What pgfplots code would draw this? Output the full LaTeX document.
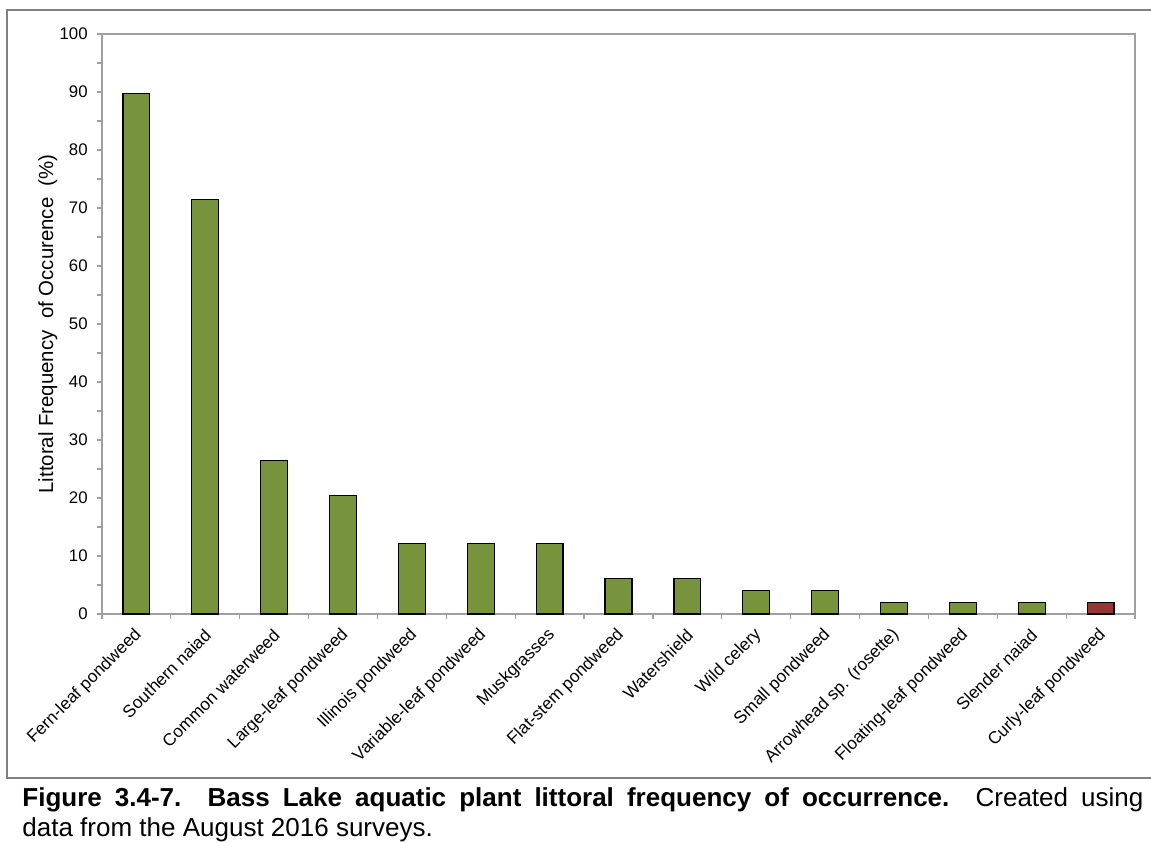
\documentclass[border=0pt]{standalone}
\usepackage{fontspec}
\setmainfont{Liberation Sans}
\usepackage{pgfplots}
\pgfplotsset{compat=1.18}
\definecolor{barg}{HTML}{77933C}
\definecolor{barr}{HTML}{953735}
\definecolor{axgray}{HTML}{A0A0A0}
\definecolor{framegray}{HTML}{808080}

\begin{document}
\begin{tikzpicture}
\useasboundingbox (0,0) rectangle (575.5pt,-421pt);
% outer frame of the figure box
\draw[framegray, line width=1pt] (576pt,-5pt) -- (3.5pt,-5pt) -- (3.5pt,-389pt) -- (576pt,-389pt);
\begin{axis}[
    at={(51pt,-307pt)}, anchor=south west,
    scale only axis, width=516.5pt, height=290pt,
    ymin=0, ymax=100, ytick={0,10,...,100}, minor y tick num=1,
    xmin=0.5, xmax=15.5,
    xtick={1,...,15},
    xticklabels={Fern-leaf pondweed, Southern naiad, Common waterweed, Large-leaf pondweed,
        Illinois pondweed, Variable-leaf pondweed, Muskgrasses, Flat-stem pondweed,
        Watershield, Wild celery, Small pondweed, Arrowhead sp. (rosette),
        Floating-leaf pondweed, Slender naiad, Curly-leaf pondweed},
    minor xtick={0.5,1.5,...,15.5},
    tick align=outside, tick pos=left,
    major tick length=2.5pt, minor tick length=2.5pt,
    axis line style={axgray, line width=0.6pt},
    tick style={axgray, line width=0.6pt},
    major x tick style={draw=none},
    /pgf/number format/assume math mode=true,
    yticklabel style={font=\fontsize{8.4pt}{9pt}\selectfont, inner sep=0pt, anchor=east, xshift=-4.5pt},
    xticklabel style={font=\fontsize{8.6pt}{9pt}\selectfont, inner sep=0pt, rotate=45, anchor=east, xshift=-3.6pt, yshift=-5.5pt},
    ylabel={Littoral Frequency\ \ of Occurence\ \ (\%)},
    ylabel style={font=\fontsize{10.2pt}{12pt}\selectfont, at={(axis description cs:-0.0474,0.5)}, anchor=base, rotate=0},
]
\addplot[ybar, bar width=0.39, bar shift=0pt, fill=barg, draw=black, line width=0.6pt]
    coordinates {(1,89.8) (2,71.4) (3,26.5) (4,20.4) (5,12.2) (6,12.2) (7,12.2)
                 (8,6.1) (9,6.1) (10,4.1) (11,4.1) (12,2.04) (13,2.04) (14,2.04)};
\addplot[ybar, bar width=0.39, bar shift=0pt, fill=barr, draw=black, line width=0.6pt]
    coordinates {(15,2.04)};
\end{axis}
\node[anchor=base west, inner sep=0pt, font=\fontsize{13pt}{15.5pt}\selectfont] at (11pt,-403pt)
    {\makebox[560.5pt][s]{\textbf{Figure 3.4-7.\ \ Bass Lake aquatic plant littoral frequency of occurrence.}\ \ Created using}};
\node[anchor=base west, inner sep=0pt, font=\fontsize{13pt}{15.5pt}\selectfont] at (11pt,-418pt)
    {data from the August 2016 surveys.};
\end{tikzpicture}
\end{document}
